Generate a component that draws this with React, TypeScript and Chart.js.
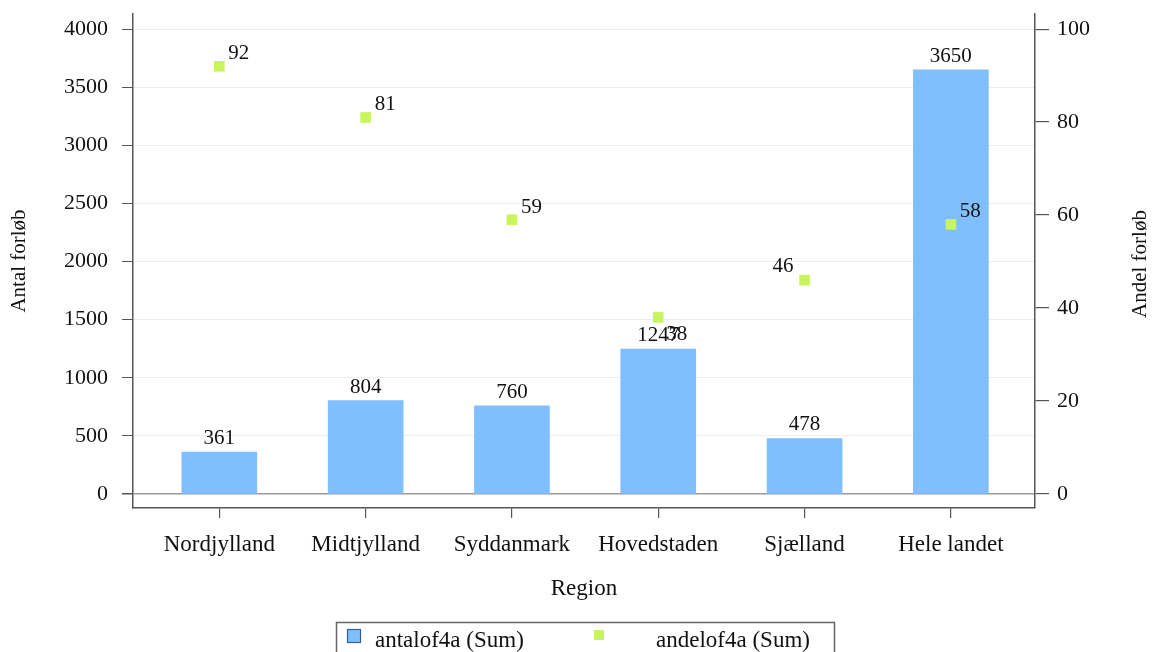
import React, { useEffect, useRef } from "react";
import { Chart, registerables } from "chart.js";

Chart.register(...registerables);

const categories = ["Nordjylland", "Midtjylland", "Syddanmark", "Hovedstaden", "Sjælland", "Hele landet"];
const antalValues = [361, 804, 760, 1247, 478, 3650];
const andelValues = [92, 81, 59, 38, 46, 58];
const leftTicks = [0, 500, 1000, 1500, 2000, 2500, 3000, 3500, 4000];
const rightTicks = [0, 20, 40, 60, 80, 100];
const seriesNames = ["antalof4a (Sum)", "andelof4a (Sum)"];
const axisTitles = { x: "Region", left: "Antal forløb", right: "Andel forløb" };

// label placement (style) for the point labels
const pointLabelPlacement = ["ne", "ne", "ne", "se", "nw", "ne"];

const FONT = "'Liberation Serif', 'Times New Roman', serif";
const BAR_COLOR = "#80bfff";
const POINT_COLOR = "#c8f55c";
const TEXT = "#111111";
const AXIS = "#555555";

const zeroPad = (s: any) => {
  s.paddingTop = 0;
  s.paddingBottom = 0;
  s.paddingLeft = 0;
  s.paddingRight = 0;
};

const labelsPlugin = {
  id: "valueLabels",
  afterDatasetsDraw(chart: any) {
    const ctx = chart.ctx;
    ctx.save();
    ctx.font = `21px ${FONT}`;
    ctx.fillStyle = TEXT;
    const barMeta = chart.getDatasetMeta(0);
    barMeta.data.forEach((el: any, i: number) => {
      ctx.textAlign = "center";
      ctx.textBaseline = "alphabetic";
      ctx.fillText(String(antalValues[i]), el.x, el.y - 8);
    });
    const ptMeta = chart.getDatasetMeta(1);
    ptMeta.data.forEach((el: any, i: number) => {
      const p = pointLabelPlacement[i];
      ctx.textBaseline = "alphabetic";
      let x = el.x, y = el.y;
      if (p === "ne") { ctx.textAlign = "left"; x += 9; y -= 7; }
      else if (p === "se") { ctx.textAlign = "left"; x += 8; y += 23; }
      else if (p === "nw") { ctx.textAlign = "right"; x -= 11; y -= 8; }
      ctx.fillText(String(andelValues[i]), x, y);
    });
    ctx.restore();
  },
  afterDraw(chart: any) {
    const ctx = chart.ctx;
    const area = chart.chartArea;
    ctx.save();
    // right axis title, reading bottom-to-top
    ctx.font = `21px ${FONT}`;
    ctx.fillStyle = TEXT;
    ctx.translate(1140, (area.top + area.bottom) / 2 + 3);
    ctx.rotate(-Math.PI / 2);
    ctx.textAlign = "center";
    ctx.textBaseline = "middle";
    ctx.fillText(axisTitles.right, 0, 0);
    ctx.restore();

    // legend box
    ctx.save();
    ctx.strokeStyle = "#666666";
    ctx.lineWidth = 1.5;
    ctx.strokeRect(336.5, 622.5, 498, 40);
    ctx.fillStyle = BAR_COLOR;
    ctx.fillRect(347, 629, 14, 14);
    ctx.strokeStyle = "#2f5f9a";
    ctx.lineWidth = 1.2;
    ctx.strokeRect(347.5, 629.5, 13, 13);
    ctx.fillStyle = POINT_COLOR;
    ctx.fillRect(594, 630, 10, 10);
    ctx.fillStyle = TEXT;
    ctx.font = `23px ${FONT}`;
    ctx.textAlign = "left";
    ctx.textBaseline = "middle";
    ctx.fillText(seriesNames[0], 375, 641);
    ctx.fillText(seriesNames[1], 656, 641);
    ctx.restore();
  },
};

export default function App() {
  const ref = useRef<HTMLCanvasElement>(null);
  useEffect(() => {
    if (!ref.current) return;
    const chart = new Chart(ref.current, {
      type: "bar",
      data: {
        datasets: [
          {
            type: "bar",
            label: seriesNames[0],
            data: antalValues.map((v, i) => ({ x: i, y: v })),
            backgroundColor: BAR_COLOR,
            borderWidth: 0,
            barThickness: 75,
            yAxisID: "y",
            order: 1,
          },
          {
            type: "scatter",
            label: seriesNames[1],
            data: andelValues.map((v, i) => ({ x: i, y: v })),
            backgroundColor: POINT_COLOR,
            borderWidth: 0,
            pointStyle: "rect",
            pointRadius: 7.5,
            yAxisID: "y1",
            order: 0,
          },
        ] as any,
      },
      options: {
        responsive: false,
        animation: false,
        devicePixelRatio: 1,
        layout: { padding: { top: 14, bottom: 44, left: 0, right: 0 } },
        plugins: { legend: { display: false }, tooltip: { enabled: false } },
        scales: {
          x: {
            type: "linear",
            offset: false,
            min: -0.59,
            max: 5.575,
            afterBuildTicks: (s: any) => { s.ticks = categories.map((_, i) => ({ value: i })); },
            afterFit: (s: any) => { s.height = 100; zeroPad(s); },
            ticks: {
              autoSkip: false,
              maxRotation: 0,
              padding: 13,
              color: TEXT,
              font: { family: FONT, size: 23 },
              callback: (v: any) => categories[v] ?? "",
            },
            grid: { offset: false, drawOnChartArea: false, tickLength: 10, tickColor: AXIS, lineWidth: 1.2 },
            border: { display: true, color: AXIS, width: 1.5 },
            title: { display: true, text: axisTitles.x, color: TEXT, font: { family: FONT, size: 23 }, padding: { bottom: 5, top: 0 } },
          },
          y: {
            type: "linear",
            position: "left",
            min: -120,
            max: 4130,
            afterBuildTicks: (s: any) => { s.ticks = leftTicks.map((v) => ({ value: v })); },
            afterFit: (s: any) => { s.width = 133; zeroPad(s); },
            ticks: { padding: 14, color: TEXT, font: { family: FONT, size: 22 }, callback: (v: any) => String(v) },
            grid: {
              color: (c: any) => (c.tick && c.tick.value === 0 ? "#999999" : "#ececec"),
              lineWidth: (c: any) => (c.tick && c.tick.value === 0 ? 1.5 : 1),
              tickLength: 11,
              tickColor: AXIS,
            },
            border: { display: true, color: AXIS, width: 1.5 },
            title: { display: true, text: axisTitles.left, color: TEXT, font: { family: FONT, size: 21 }, padding: { top: 7, bottom: 0 } },
          },
          y1: {
            type: "linear",
            position: "right",
            min: -3,
            max: 103.25,
            afterBuildTicks: (s: any) => { s.ticks = rightTicks.map((v) => ({ value: v })); },
            afterFit: (s: any) => { s.width = 120; zeroPad(s); },
            ticks: { padding: 8, color: TEXT, font: { family: FONT, size: 22 }, callback: (v: any) => String(v) },
            grid: { drawOnChartArea: false, tickLength: 14, tickColor: AXIS, lineWidth: 1.2 },
            border: { display: true, color: AXIS, width: 1.5 },
          },
        },
      } as any,
      plugins: [labelsPlugin],
    });
    return () => chart.destroy();
  }, []);
  return (
    <canvas
      ref={ref}
      width={1155}
      height={652}
      style={{ position: "fixed", left: 0, top: 0, width: 1155, height: 652, display: "block", background: "#ffffff" }}
    />
  );
}
